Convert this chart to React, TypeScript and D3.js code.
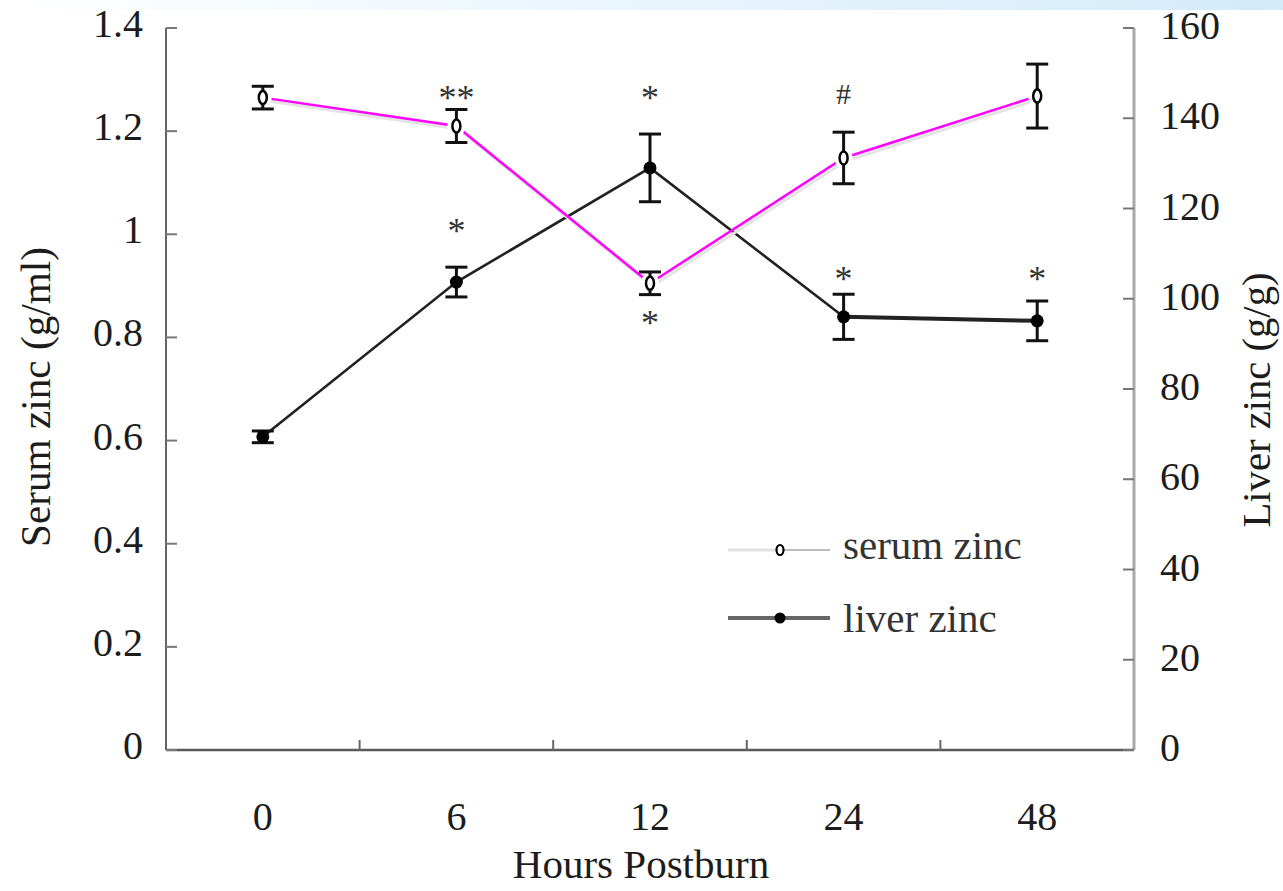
import * as d3 from "d3";

const WIDTH = 1283;
const HEIGHT = 891;

const hours = ["0", "6", "12", "24", "48"];
const serumZinc = [1.265, 1.21, 0.905, 1.148, 1.268];
const serumErr = [0.022, 0.032, 0.022, 0.05, 0.062];
const liverZinc = [69.4, 103.7, 129, 96, 95.1];
const liverErr = [1.3, 3.3, 7.5, 5.0, 4.4];
const serumTicks = [0, 0.2, 0.4, 0.6, 0.8, 1.0, 1.2, 1.4];
const liverTicks = [0, 20, 40, 60, 80, 100, 120, 140, 160];
// significance marks, placed on the serum (left) scale
const markHours = ["6", "6", "12", "12", "24", "24", "48"];
const markValues = [1.276, 1.018, 1.276, 0.84, 1.274, 0.925, 0.925];
const markLabels = ["**", "*", "*", "*", "#", "*", "*"];

const FONT = "'Liberation Serif', 'Times New Roman', serif";
const INK = "#1c1c1c";

export default function App() {
  const x = d3.scaleBand<string>().domain(hours).range([166, 1134]);
  const cx = (h: string) => (x(h) ?? 0) + x.bandwidth() / 2;
  const yL = d3.scaleLinear().domain([0, 1.4]).range([750, 28]);
  const yR = d3.scaleLinear().domain([0, 160]).range([750, 28]);
  const fmt = d3.format("~g");

  const serumPts: [number, number][] = hours.map((h, i) => [cx(h), yL(serumZinc[i])]);
  const liverPts: [number, number][] = hours.map((h, i) => [cx(h), yR(liverZinc[i])]);
  const path = d3.line();

  const [x0, x1] = x.range();
  const bottom = yL(0);
  const top = yL(1.4);
  const cap = 11;

  return (
    <div>
      <style>{"body{margin:0}"}</style>
      <svg width={WIDTH} height={HEIGHT} style={{ display: "block", background: "#fff" }}>
        <defs>
          <linearGradient id="band" x1="0" x2="1" y1="0" y2="0">
            <stop offset="0" stopColor="#ffffff" />
            <stop offset="1" stopColor="#d3ebfa" />
          </linearGradient>
        </defs>
        <rect x={0} y={0} width={WIDTH} height={10} fill="url(#band)" />

        {/* axes */}
        <line x1={x0} x2={x0} y1={top} y2={bottom} stroke="#666" strokeWidth={2} />
        <line x1={x1} x2={x1} y1={top} y2={bottom} stroke="#aaa" strokeWidth={3} />
        <line x1={x0} x2={x1} y1={bottom} y2={bottom} stroke="#5a5a5a" strokeWidth={2.5} />
        {serumTicks.map((t) => (
          <g key={"l" + t}>
            <line x1={x0} x2={x0 + 11} y1={yL(t)} y2={yL(t)} stroke="#777" strokeWidth={2} />
            <text x={143} y={yL(t) + 9} textAnchor="end" fontFamily={FONT} fontSize={40} fill={INK}>
              {fmt(t)}
            </text>
          </g>
        ))}
        {liverTicks.map((t) => (
          <g key={"r" + t}>
            <line x1={x1 - 11} x2={x1} y1={yR(t)} y2={yR(t)} stroke="#777" strokeWidth={2} />
            <text x={1160} y={yR(t) + 11} fontFamily={FONT} fontSize={40} fill={INK}>
              {fmt(t)}
            </text>
          </g>
        ))}
        {hours.slice(1).map((h) => (
          <line key={"xt" + h} x1={x(h)} x2={x(h)} y1={bottom} y2={bottom - 10} stroke="#666" strokeWidth={2} />
        ))}
        {hours.map((h) => (
          <text key={"xl" + h} x={cx(h)} y={830} textAnchor="middle" fontFamily={FONT} fontSize={40} fill={INK}>
            {h}
          </text>
        ))}
        <text x={641} y={878} textAnchor="middle" fontFamily={FONT} fontSize={41} fill={INK}>
          Hours Postburn
        </text>
        <text
          transform="translate(50,397) rotate(-90)"
          textAnchor="middle"
          fontFamily={FONT}
          fontSize={42}
          fill={INK}
          textLength={300}
          lengthAdjust="spacingAndGlyphs"
        >
          Serum zinc (g/ml)
        </text>
        <text
          transform="translate(1270,400) rotate(-90)"
          textAnchor="middle"
          fontFamily={FONT}
          fontSize={41}
          fill={INK}
          textLength={255}
          lengthAdjust="spacingAndGlyphs"
        >
          Liver zinc (g/g)
        </text>

        {/* liver zinc */}
        <path d={path(liverPts) ?? ""} fill="none" stroke="#222" strokeWidth={2.6} />
        <path d={path(liverPts.slice(3)) ?? ""} fill="none" stroke="#222" strokeWidth={4} />
        {hours.map((h, i) => (
          <g key={"le" + h} stroke="#111" strokeWidth={3}>
            <line x1={cx(h)} x2={cx(h)} y1={yR(liverZinc[i] - liverErr[i])} y2={yR(liverZinc[i] + liverErr[i])} />
            <line x1={cx(h) - cap} x2={cx(h) + cap} y1={yR(liverZinc[i] + liverErr[i])} y2={yR(liverZinc[i] + liverErr[i])} />
            <line x1={cx(h) - cap} x2={cx(h) + cap} y1={yR(liverZinc[i] - liverErr[i])} y2={yR(liverZinc[i] - liverErr[i])} />
          </g>
        ))}
        {liverPts.map(([px, py], i) => (
          <circle key={"lm" + i} cx={px} cy={py} r={6.5} fill="#000" />
        ))}

        {/* serum zinc */}
        <path d={path(serumPts) ?? ""} transform="translate(2,3)" fill="none" stroke="#e4e4e4" strokeWidth={3} />
        <path d={path(serumPts) ?? ""} fill="none" stroke="#ff00ff" strokeWidth={2.5} />
        {serumPts.map(([px, py], i) => (
          <ellipse key={"sb" + i} cx={px} cy={py} rx={9} ry={11} fill="#fff" />
        ))}
        {hours.map((h, i) => (
          <g key={"se" + h} stroke="#111" strokeWidth={3}>
            <line x1={cx(h)} x2={cx(h)} y1={yL(serumZinc[i] - serumErr[i])} y2={yL(serumZinc[i] + serumErr[i])} />
            <line x1={cx(h) - cap} x2={cx(h) + cap} y1={yL(serumZinc[i] + serumErr[i])} y2={yL(serumZinc[i] + serumErr[i])} />
            <line x1={cx(h) - cap} x2={cx(h) + cap} y1={yL(serumZinc[i] - serumErr[i])} y2={yL(serumZinc[i] - serumErr[i])} />
          </g>
        ))}
        {serumPts.map(([px, py], i) => (
          <ellipse key={"sm" + i} cx={px} cy={py} rx={4} ry={6.5} fill="#fff" stroke="#000" strokeWidth={2.5} />
        ))}

        {/* significance marks */}
        {markLabels.map((label, i) => (
          <text
            key={"mk" + i}
            x={cx(markHours[i])}
            y={yL(markValues[i]) + (label === "#" ? 11 : 18)}
            textAnchor="middle"
            fontFamily={FONT}
            fontSize={label === "#" ? 30 : 36}
            fill="#333"
          >
            {label}
          </text>
        ))}

        {/* legend */}
        <line x1={728} x2={780} y1={550} y2={550} stroke="#e2e2e2" strokeWidth={3} />
        <line x1={780} x2={830} y1={550} y2={550} stroke="#bdbdbd" strokeWidth={2} />
        <ellipse cx={780} cy={550} rx={3.5} ry={5} fill="#fff" stroke="#000" strokeWidth={2.2} />
        <text x={843} y={559} fontFamily={FONT} fontSize={41} fill="#333">
          serum zinc
        </text>
        <line x1={728} x2={830} y1={618} y2={618} stroke="#666" strokeWidth={4} />
        <circle cx={780} cy={618} r={5.5} fill="#000" />
        <text x={843} y={632} fontFamily={FONT} fontSize={41} fill="#333">
          liver zinc
        </text>
      </svg>
    </div>
  );
}
